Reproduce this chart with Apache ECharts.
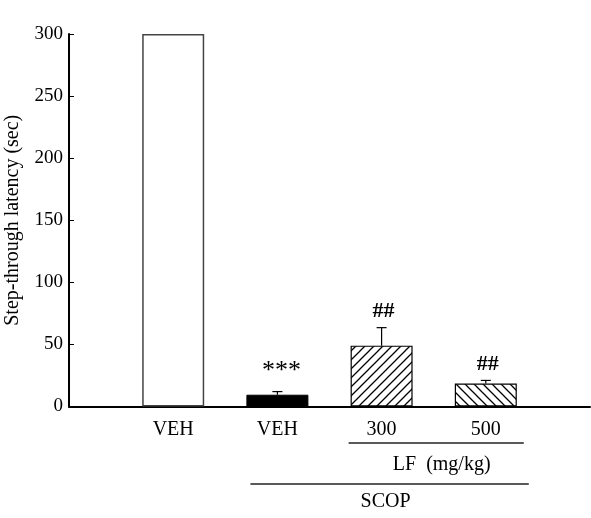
<!DOCTYPE html>
<html><head><meta charset="utf-8">
<script src="https://cdn.jsdelivr.net/npm/echarts@6/dist/echarts.min.js"></script>
<style>html,body{margin:0;padding:0;background:#fff}#c{width:591px;height:518px}</style>
</head><body><div id="c"></div>
<script>
// ---- data ----
const categories = ['', 'VEH', 'VEH', '300', '500', ''];
const values = [null, 300, 9.5, 49, 18.5, null];
const errors = [null, 0, 2.5, 14.5, 2.5, null];
const annotations = ['', '', '***', '##', '##', ''];
const yTicks = [0, 50, 100, 150, 200, 250, 300];
const yTitle = 'Step-through latency (sec)';
const groupLF = 'LF  (mg/kg)';
const groupSCOP = 'SCOP';

const FONT = '"Liberation Serif", "DejaVu Serif", serif';

function hatch(dir) {
  const s = 9;
  const c = document.createElement('canvas');
  c.width = s; c.height = s;
  const g = c.getContext('2d');
  g.fillStyle = '#fff'; g.fillRect(0, 0, s, s);
  g.strokeStyle = '#000'; g.lineWidth = 1.3;
  g.beginPath();
  if (dir === '/') {
    g.moveTo(-2, s + 2); g.lineTo(s + 2, -2);
    g.moveTo(-2, 2); g.lineTo(2, -2);
    g.moveTo(s - 2, s + 2); g.lineTo(s + 2, s - 2);
  } else {
    g.moveTo(-2, -2); g.lineTo(s + 2, s + 2);
    g.moveTo(-2, s - 2); g.lineTo(2, s + 2);
    g.moveTo(s - 2, -2); g.lineTo(s + 2, 2);
  }
  g.stroke();
  return { image: c, repeat: 'repeat' };
}

const barStyles = [
  null,
  { color: '#fff', borderColor: '#444', borderWidth: 1.5 },
  { color: '#000', borderColor: '#000', borderWidth: 1 },
  { color: hatch('/'), borderColor: '#000', borderWidth: 1.2 },
  { color: hatch('\\'), borderColor: '#000', borderWidth: 1.2 },
  null
];

const barData = values.map((v, i) => v == null ? null : { value: v, itemStyle: barStyles[i] });
const errData = [];
values.forEach((v, i) => { if (v != null) errData.push([i, v, errors[i]]); });

const chart = echarts.init(document.getElementById('c'), null, { renderer: 'canvas' });
chart.setOption({
  animation: false,
  grid: { left: 69, right: 1, top: 34, bottom: 111.5, containLabel: false, outerBoundsMode: 'none' },
  xAxis: {
    type: 'category', data: categories, boundaryGap: false,
    axisLine: { lineStyle: { color: '#000', width: 2 } },
    axisTick: { show: false },
    axisLabel: { color: '#000', fontFamily: FONT, fontSize: 20, margin: 13, interval: 0 }
  },
  yAxis: {
    type: 'value', min: 0, max: 300, interval: 50,
    name: yTitle, nameLocation: 'middle', nameGap: 46,
    nameTextStyle: { color: '#000', fontFamily: FONT, fontSize: 20 },
    axisLine: { show: true, lineStyle: { color: '#000', width: 2 } },
    axisTick: { show: true, inside: true, length: 5, lineStyle: { color: '#000', width: 1 } },
    axisLabel: { color: '#000', fontFamily: FONT, fontSize: 19, margin: 6,
      formatter: v => yTicks.includes(v) ? String(v) : '' },
    splitLine: { show: false }
  },
  series: [
    { type: 'bar', data: barData, barWidth: 62, z: 2 },
    {
      type: 'custom', data: errData, z: 3,
      renderItem: function (params, api) {
        const i = api.value(0), v = api.value(1), e = api.value(2);
        const base = api.coord([i, v]);
        const top = api.coord([i, v + e]);
        const children = [];
        if (e > 0) {
          children.push({ type: 'line', shape: { x1: base[0], y1: base[1], x2: top[0], y2: top[1] }, style: { stroke: '#000', lineWidth: 1.2 } });
          children.push({ type: 'line', shape: { x1: top[0] - 5, y1: top[1], x2: top[0] + 5, y2: top[1] }, style: { stroke: '#000', lineWidth: 1.2 } });
        }
        const t = annotations[i];
        if (t) {
          const isStar = t.indexOf('*') >= 0;
          children.push({ type: 'text', style: {
            text: t, x: top[0] + (isStar ? 4 : 2), y: top[1] - (isStar ? 7 : 5),
            align: 'center', verticalAlign: 'bottom',
            font: (isStar ? '26px ' : 'bold 22px ') + FONT, fill: '#000' } });
        }
        return { type: 'group', children: children };
      }
    }
  ]
});

// group brackets under the axis
const px = i => chart.convertToPixel({ xAxisIndex: 0 }, i);
const c1 = px(1), c2 = px(2), c3 = px(3), c4 = px(4);
chart.setOption({
  graphic: [
    { type: 'line', shape: { x1: c3 - 33, y1: 443, x2: c4 + 38, y2: 443 }, style: { stroke: '#222', lineWidth: 1.3 } },
    { type: 'text', style: { text: groupLF, x: (c3 + c4) / 2 + 8, y: 465, align: 'center', verticalAlign: 'middle', font: '20px ' + FONT, fill: '#000' } },
    { type: 'line', shape: { x1: c2 - 27, y1: 484, x2: c4 + 43, y2: 484 }, style: { stroke: '#222', lineWidth: 1.3 } },
    { type: 'text', style: { text: groupSCOP, x: (c2 + c4) / 2 + 4, y: 502, align: 'center', verticalAlign: 'middle', font: '20px ' + FONT, fill: '#000' } }
  ]
});
</script>
</body></html>
